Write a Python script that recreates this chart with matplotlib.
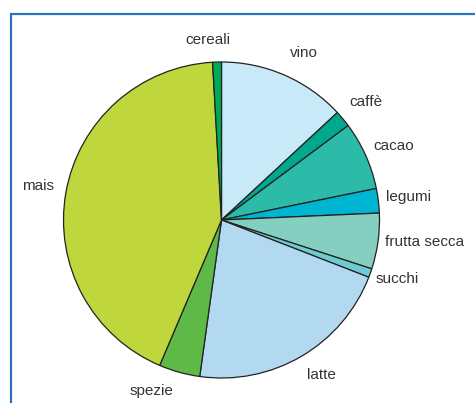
import matplotlib.pyplot as plt
from matplotlib.patches import Rectangle

labels = ["vino", "caffè", "cacao", "legumi", "frutta secca", "succhi",
          "latte", "spezie", "mais", "cereali"]
values = [13.1, 1.7, 7.0, 2.5, 5.7, 0.9, 21.3, 4.2, 42.7, 0.9]
colors = ["#C8E9F8", "#00A88E", "#2BBBA8", "#00B5D1", "#85CFC0", "#6ECBD3",
          "#B3D9F0", "#5FB946", "#BFD73D", "#00AA55"]

# label centres, in units of the pie radius
label_pos = [(0.52, 1.06), (0.915, 0.745), (1.09, 0.47), (1.185, 0.145),
             (1.285, -0.14), (1.115, -0.375), (0.63, -0.98), (-0.445, -1.085),
             (-1.16, 0.215), (-0.085, 1.14)]

plt.rcParams['font.family'] = ['Liberation Sans', 'DejaVu Sans']

fig = plt.figure(figsize=(4.75, 4.03), dpi=100)
ax = fig.add_axes([0, 0, 1, 1])

ax.pie(values, colors=colors, startangle=90, counterclock=False,
       radius=1, center=(0, 0), frame=True,
       wedgeprops=dict(edgecolor="#222222", linewidth=0.9))

for lab, (x, y) in zip(labels, label_pos):
    ax.text(x, y, lab, ha="center", va="center", fontsize=11, color="#333333")

ax.set_xlim(-221.5 / 158, (475 - 221.5) / 158)
ax.set_ylim((220 - 403) / 158, 220 / 158)
ax.set_aspect("auto")
ax.axis("off")

# blue frame around the chart
fig.patches.append(Rectangle((11 / 475, -0.2), 1.2, 1 - 14 / 403 + 0.2,
                             transform=fig.transFigure, fill=False,
                             edgecolor="#2A74BC", linewidth=1.6))

fig.savefig("out.png", dpi=100)
